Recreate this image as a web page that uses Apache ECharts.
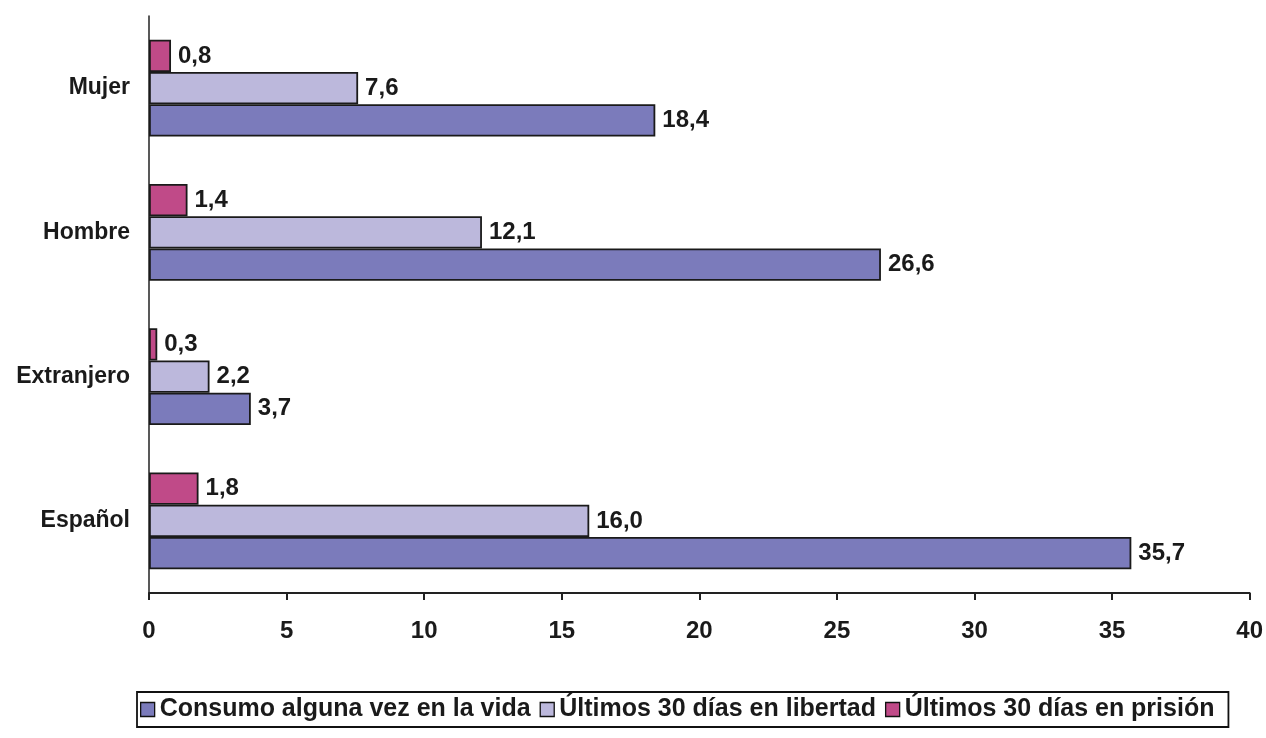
<!DOCTYPE html>
<html><head><meta charset="utf-8">
<script src="https://cdn.jsdelivr.net/npm/echarts@6/dist/echarts.min.js"></script>
<style>html,body{margin:0;padding:0;background:#fff}#c{width:1266px;height:738px}</style>
</head><body><div id="c"></div>
<script>
const categories = ['Español', 'Extranjero', 'Hombre', 'Mujer'];
const seriesNames = ['Consumo alguna vez en la vida', 'Últimos 30 días en libertad', 'Últimos 30 días en prisión'];
const consumoVida = [35.7, 3.7, 26.6, 18.4];
const libertad30 = [16.0, 2.2, 12.1, 7.6];
const prision30 = [1.8, 0.3, 1.4, 0.8];
const xTicks = [0, 5, 10, 15, 20, 25, 30, 35, 40];
const colors = ['#7b7bbb', '#bcb8dc', '#c04a88'];

const font = '"Liberation Sans", Arial, sans-serif';
const chart = echarts.init(document.getElementById('c'), null, {renderer: 'canvas'});
function mk(name, data, color) {
  return {
    name: name, type: 'bar', data: data, barGap: '0%', barCategoryGap: '33%',
    itemStyle: {color: color, borderColor: '#1a1a1a', borderWidth: 1.8},
    label: {show: true, position: 'right', distance: 7, color: '#1a1a1a', fontFamily: font,
      fontWeight: 'bold', fontSize: 24,
      formatter: p => p.value.toFixed(1).replace('.', ',')}
  };
}
chart.setOption({
  animation: false,
  backgroundColor: '#fff',
  grid: {left: 149, right: 13, top: 16, bottom: 145, containLabel: false},
  legend: {
    data: seriesNames,
    bottom: 11, left: 137,
    padding: [5, 14, 5, 3],
    borderColor: '#111', borderWidth: 1.8,
    itemWidth: 14, itemHeight: 14, itemGap: 9,
    icon: 'rect',
    textStyle: {fontFamily: font, fontWeight: 'bold', fontSize: 25, color: '#1a1a1a'},
    itemStyle: {borderColor: '#111', borderWidth: 1.3}
  },
  xAxis: {
    type: 'value', min: 0, max: 40, interval: 5,
    axisLine: {show: true, lineStyle: {color: '#222', width: 2}},
    axisTick: {show: true, length: 7, lineStyle: {color: '#222', width: 2}},
    splitLine: {show: false},
    axisLabel: {margin: 26, color: '#1a1a1a', fontFamily: font, fontWeight: 'bold', fontSize: 24,
      formatter: v => xTicks.includes(v) ? String(v) : ''}
  },
  yAxis: {
    type: 'category', data: categories,
    axisLine: {show: true, lineStyle: {color: '#222', width: 1.5}},
    axisTick: {show: false},
    axisLabel: {margin: 19, color: '#1a1a1a', fontFamily: font, fontWeight: 'bold', fontSize: 23}
  },
  series: [
    mk(seriesNames[2], prision30, colors[2]),
    mk(seriesNames[1], libertad30, colors[1]),
    mk(seriesNames[0], consumoVida, colors[0])
  ]
});
</script></body></html>
